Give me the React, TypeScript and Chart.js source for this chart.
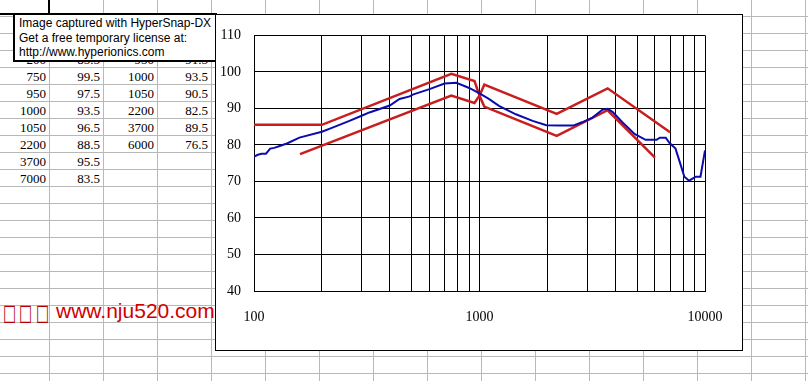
import React, { useEffect, useRef } from 'react';
import { Chart, registerables } from 'chart.js';

Chart.register(...registerables);

// Measured response (blue)
const blueFreq = [100, 104, 108, 113, 118, 123, 130, 140, 159, 200, 220, 265, 300, 325, 400, 442, 490, 506, 600, 700, 790, 900, 1000, 1100, 1220, 1450, 1720, 1980, 2250, 2600, 2850, 3170, 3500, 3700, 3900, 4300, 4870, 5450, 6100, 6300, 6700, 6950, 7400, 7850, 8100, 8500, 9100, 9550, 10000];
const blueLevel = [76.8, 77.3, 77.6, 77.6, 79.0, 79.2, 79.7, 80.4, 82.0, 83.6, 84.6, 86.6, 88.0, 88.9, 90.8, 92.6, 93.3, 93.8, 95.3, 96.8, 97.0, 95.6, 94.1, 92.6, 90.7, 88.4, 86.6, 85.4, 85.3, 85.3, 86.2, 87.5, 89.6, 89.9, 89.0, 86.2, 83.0, 81.4, 81.4, 82.0, 82.0, 80.6, 79.0, 74.0, 71.3, 70.2, 71.3, 71.3, 78.5];

// Upper tolerance (red)
const upperFreq = [100, 200, 750, 950, 1000, 1050, 2200, 3700, 7000];
const upperLevel = [85.5, 85.5, 99.5, 97.5, 93.5, 96.5, 88.5, 95.5, 83.5];

// Lower tolerance (red)
const lowerFreq = [160, 750, 950, 1000, 1050, 2200, 3700, 6000];
const lowerLevel = [77.5, 93.5, 91.5, 93.5, 90.5, 82.5, 89.5, 76.5];

const xTickLabels = [100, 1000, 10000];
const xGridFreqs = [100, 200, 300, 400, 500, 600, 700, 800, 900, 1000, 2000, 3000, 4000, 5000, 6000, 7000, 8000, 9000, 10000];
const yMin = 40;
const yMax = 110;
const yStep = 10;

const toPoints = (xs: number[], ys: number[]) => xs.map((x, i) => ({ x, y: ys[i] }));

const COL_X = Array.from({ length: 15 }, (_, i) => 49 + 54 * i);
const ROW_Y = Array.from({ length: 22 }, (_, k) => 16 + 17 * k);

function Cell({ col, row, text }: { col: number; row: number; text: string }) {
  const right = COL_X[col];
  const left = col === 0 ? 0 : COL_X[col - 1];
  const top = row === 0 ? 0 : ROW_Y[row - 1];
  return (
    <div
      style={{
        position: 'absolute',
        left,
        top: top + 2,
        width: right - left - 3,
        height: 17,
        lineHeight: '17px',
        textAlign: 'right',
        font: '13px "Liberation Serif", serif',
        color: '#000',
        whiteSpace: 'nowrap',
      }}
    >
      {text}
    </div>
  );
}

export default function App() {
  const ref = useRef<HTMLCanvasElement>(null);

  useEffect(() => {
    const tickFont = { family: '"Liberation Serif", serif', size: 14 };
    const chart = new Chart(ref.current!, {
      type: 'scatter',
      data: {
        datasets: [
          {
            data: toPoints(blueFreq, blueLevel),
            showLine: true,
            borderColor: '#0c0cae',
            borderWidth: 2,
            pointRadius: 0,
            tension: 0,
          },
          {
            data: toPoints(upperFreq, upperLevel),
            showLine: true,
            borderColor: '#c81e1e',
            borderWidth: 2.5,
            pointRadius: 0,
            tension: 0,
          },
          {
            data: toPoints(lowerFreq, lowerLevel),
            showLine: true,
            borderColor: '#c81e1e',
            borderWidth: 2.5,
            pointRadius: 0,
            tension: 0,
          },
        ],
      },
      options: {
        animation: false,
        responsive: false,
        devicePixelRatio: 1,
        layout: { padding: { top: 18, right: 38, left: 0, bottom: 0 } },
        plugins: { legend: { display: false }, tooltip: { enabled: false } },
        scales: {
          x: {
            type: 'logarithmic',
            min: 100,
            max: 10000,
            position: 'bottom',
            grid: { color: '#000', lineWidth: 1, drawTicks: false },
            border: { display: true, color: '#000', width: 1 },
            afterBuildTicks: (axis: any) => {
              axis.ticks = xGridFreqs.map((v) => ({ value: v }));
            },
            afterFit: (axis: any) => {
              axis.height = 60;
            },
            ticks: {
              autoSkip: false,
              maxRotation: 0,
              padding: 18,
              color: '#000',
              font: tickFont,
              callback: (value: any) => (xTickLabels.includes(Number(value)) ? String(value) : ''),
            },
          },
          y: {
            type: 'linear',
            min: yMin,
            max: yMax,
            grid: { color: '#000', lineWidth: 1, drawTicks: false },
            border: { display: true, color: '#000', width: 1 },
            afterFit: (axis: any) => {
              axis.width = 39;
            },
            ticks: {
              stepSize: yStep,
              padding: 13,
              color: '#000',
              font: tickFont,
            },
          },
        },
      },
    } as any);
    return () => chart.destroy();
  }, []);

  const squareStyle: React.CSSProperties = {
    display: 'inline-block',
    width: 16.3,
    textAlign: 'left',
    font: '21px "DejaVu Sans", sans-serif',
    color: '#b00000',
    transform: 'scale(0.66, 1.08)',
    transformOrigin: 'left center',
  };

  return (
    <div
      style={{
        position: 'fixed',
        left: 0,
        top: 0,
        width: 808,
        height: 381,
        background: '#fff',
        overflow: 'hidden',
      }}
    >
      {COL_X.map((x) => (
        <div key={'c' + x} style={{ position: 'absolute', left: x, top: 0, width: 1, height: 381, background: '#b8b8b8' }} />
      ))}
      {ROW_Y.map((y) => (
        <div key={'r' + y} style={{ position: 'absolute', left: 0, top: y, width: 808, height: 1, background: '#b8b8b8' }} />
      ))}

      {upperFreq.map((f, i) => (
        <React.Fragment key={'u' + i}>
          <Cell col={0} row={i + 2} text={String(f)} />
          <Cell col={1} row={i + 2} text={upperLevel[i].toFixed(1)} />
        </React.Fragment>
      ))}
      {lowerFreq.map((f, i) => (
        <React.Fragment key={'l' + i}>
          <Cell col={2} row={i + 1} text={String(f)} />
          <Cell col={3} row={i + 1} text={lowerLevel[i].toFixed(1)} />
        </React.Fragment>
      ))}

      <div
        style={{
          position: 'absolute',
          left: -2,
          top: -2,
          width: 52,
          height: 17,
          border: '2px solid #000',
          boxSizing: 'border-box',
        }}
      />

      <div
        style={{
          position: 'absolute',
          left: 13,
          top: 13,
          width: 204,
          height: 49,
          border: '2px solid #000',
          boxSizing: 'border-box',
          background: '#fff',
          padding: '1px 0 0 4px',
          font: '12px "Liberation Sans", Arial, sans-serif',
          lineHeight: '14.5px',
          color: '#000',
          whiteSpace: 'nowrap',
        }}
      >
        <div>Image captured with HyperSnap-DX</div>
        <div>Get a free temporary license at:</div>
        <div>http://www.hyperionics.com</div>
      </div>

      <div
        style={{
          position: 'absolute',
          left: 3,
          top: 300,
          height: 22,
          lineHeight: '22px',
          whiteSpace: 'nowrap',
        }}
      >
        <span style={squareStyle}>□</span>
        <span style={squareStyle}>□</span>
        <span style={squareStyle}>□</span>
        <span
          style={{
            position: 'absolute',
            left: 53,
            top: 0,
            font: '21px "Liberation Sans", Arial, sans-serif',
            lineHeight: '22px',
            color: '#d00000',
          }}
        >
          www.nju520.com
        </span>
      </div>

      <div
        style={{
          position: 'absolute',
          left: 215,
          top: 14,
          width: 528,
          height: 337,
          background: '#fff',
        }}
      >
        <canvas ref={ref} width={528} height={337} style={{ width: 528, height: 337, display: 'block' }} />
      </div>
      <div
        style={{
          position: 'absolute',
          left: 215,
          top: 14,
          width: 528,
          height: 337,
          border: '1px solid #000',
          boxSizing: 'border-box',
          pointerEvents: 'none',
        }}
      />
    </div>
  );
}
